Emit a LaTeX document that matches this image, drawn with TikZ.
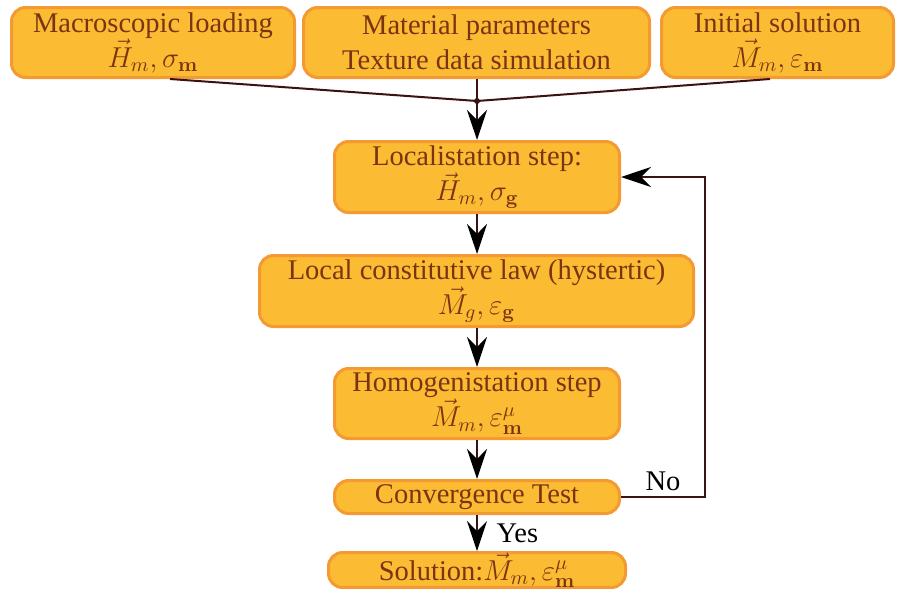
\documentclass[tikz,border=0pt]{standalone}
\usepackage{amsmath,amssymb}
\usepackage[no-math]{fontspec}
\setmainfont{LiberationSerif}[Extension=.ttf,UprightFont=*-Regular,BoldFont=*-Bold,ItalicFont=*-Italic,BoldItalicFont=*-BoldItalic]
\usepackage{tikz}
\usetikzlibrary{arrows.meta,positioning}
\definecolor{boxfill}{HTML}{FBBB32}
\definecolor{boxline}{HTML}{F49A33}
\definecolor{boxtext}{HTML}{7A3414}
\definecolor{flowline}{HTML}{3A1212}
\tikzset{
  stepbox/.style={draw=boxline,fill=boxfill,text=boxtext,line width=1.5pt,
    rounded corners=7pt,align=center,inner sep=0pt},
  flow/.style={draw=flowline,line width=1pt,-{Stealth[length=15pt,width=10pt,inset=5pt,color=black]}}
}
\begin{document}
\begin{tikzpicture}[x=0.5pt,y=-0.5pt,font=\fontsize{14.25}{17.5}\selectfont]
  \useasboundingbox (0,0) rectangle (897,589);
  \node(macro)[stepbox,minimum width=141.5pt,minimum height=35pt] at (153,42.5)
    {Macroscopic loading\\$\vec{H}_m,\sigma_{\mathbf{m}}$};
  \node(material)[stepbox,minimum width=173pt,minimum height=35pt] at (476.5,42.5)
    {Material parameters\\Texture data simulation};
  \node(initial)[stepbox,minimum width=116pt,minimum height=35pt] at (777.5,42.5)
    {Initial solution\\$\vec{M}_m,\varepsilon_{\mathbf{m}}$};
  \node(local)[stepbox,minimum width=142.5pt,minimum height=35.5pt] at (477,177)
    {Localistation step:\\$\vec{H}_m,\sigma_{\mathbf{g}}$};
  \node(law)[stepbox,minimum width=217pt,minimum height=35.5pt] at (476.5,291)
    {Local constitutive law (hystertic)\\$\vec{M}_g,\varepsilon_{\mathbf{g}}$};
  \node(homog)[stepbox,minimum width=142.5pt,minimum height=35pt] at (477,403.5)
    {Homogenistation step\\$\vec{M}_m,\varepsilon^{\mu}_{\mathbf{m}}$};
  \node(conv)[stepbox,minimum width=142.5pt,minimum height=16.5pt] at (477,497)
    {Convergence Test};
  \node(sol)[stepbox,minimum width=148.5pt,minimum height=16.5pt] at (477,570)
    {Solution:$\vec{M}_m,\varepsilon^{\mu}_{\mathbf{m}}$};
  % inputs meet in one point
  \coordinate(join) at (477,101);
  \coordinate(turn) at (705,177);
  \draw[flowline,line width=1pt] (macro.south -| 170,0) -- (join);
  \draw[flowline,line width=1pt] (initial.south -| 770,0) -- (join);
  \draw[flowline,line width=1pt] (material.south -| join) -- (join);
  \fill[flowline] (join) circle (1.5pt);
  \draw[flow] (join) -- (local.north);
  \draw[flow] (local.south -| join) -- (law.north -| join);
  \draw[flow] (law.south -| join) -- (homog.north -| join);
  \draw[flow] (homog.south -| join) -- (conv.north -| join);
  \draw[flow] (conv.south -| join) -- (sol.north -| join) node[midway,right=6pt] {Yes};
  \draw[flow] (conv.east) -| (turn) -- (local.east);
  \node(no) at (663,481) {No};
\end{tikzpicture}
\end{document}
